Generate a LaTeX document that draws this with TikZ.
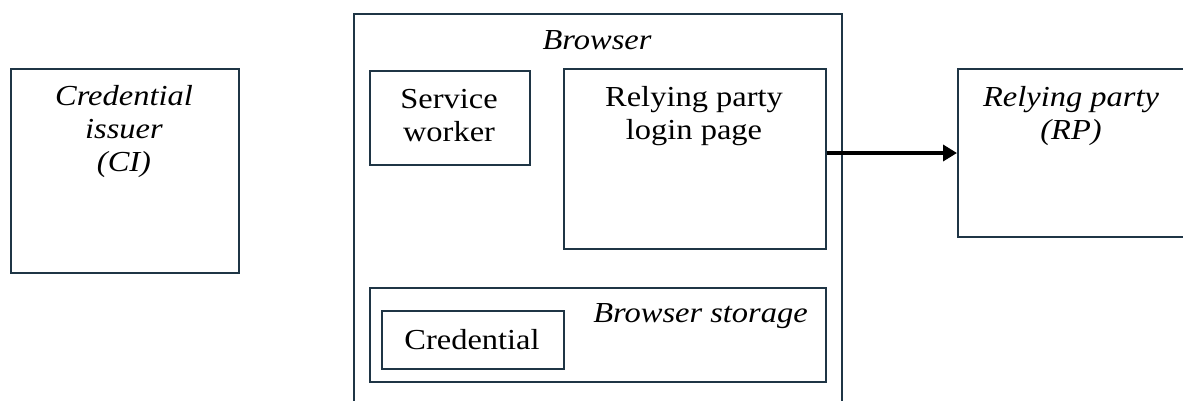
\documentclass[tikz,border=0pt]{standalone}
\usepackage{fontspec}
\setmainfont{Liberation Serif}[FakeStretch=1.12]
\usetikzlibrary{arrows.meta}
\definecolor{edge}{HTML}{1F3545}
\tikzset{
  box/.style={draw=edge, line width=1.5pt, fill=none, inner sep=0pt, anchor=north west},
  lbl/.style={font=\fontsize{29}{33}\selectfont, align=center, inner sep=0pt, text=black},
  ilbl/.style={lbl, font=\fontsize{29}{33}\selectfont\itshape},
  link/.style={line width=4.5pt, -{Triangle[length=14pt,width=16pt]}}
}
\begin{document}
\begin{tikzpicture}[x=1pt,y=-1pt]
\useasboundingbox (0,0) rectangle (1183,400);
% boxes
\node[box, minimum width=228pt, minimum height=204pt] (ci) at (10,68) {};
\node[box, minimum width=488pt, minimum height=410pt] (browser) at (353,13) {};
\node[box, minimum width=160pt, minimum height=94pt] (sw) at (369,70) {};
\node[box, minimum width=262pt, minimum height=180pt] (login) at (563,68) {};
\node[box, minimum width=456pt, minimum height=94pt] (storage) at (369,287) {};
\node[box, minimum width=182pt, minimum height=58pt] (cred) at (381,310) {};
\node[box, minimum width=240pt, minimum height=168pt] (rp) at (957,68) {};
% labels
\node[ilbl, anchor=center] (cilbl) at (124,132) {Credential\\issuer\\(CI)};
\node[ilbl, anchor=center] (browserlbl) at (597,40) {Browser};
\node[lbl, anchor=center] (swlbl) at (449,116) {Service\\worker};
\node[lbl, anchor=center] (loginlbl) at (694,116) {Relying party\\login page};
\node[ilbl, anchor=east] (storagelbl) at (808,316) {Browser storage};
\node[lbl, anchor=center] (credlbl) at (472,340) {Credential};
\node[ilbl, anchor=center] (rplbl) at (1071,116) {Relying party\\(RP)};
% arrow
\coordinate (ay) at (0,153);
\draw[link] (login.east |- ay) -- (rp.west |- ay);
\end{tikzpicture}
\end{document}
